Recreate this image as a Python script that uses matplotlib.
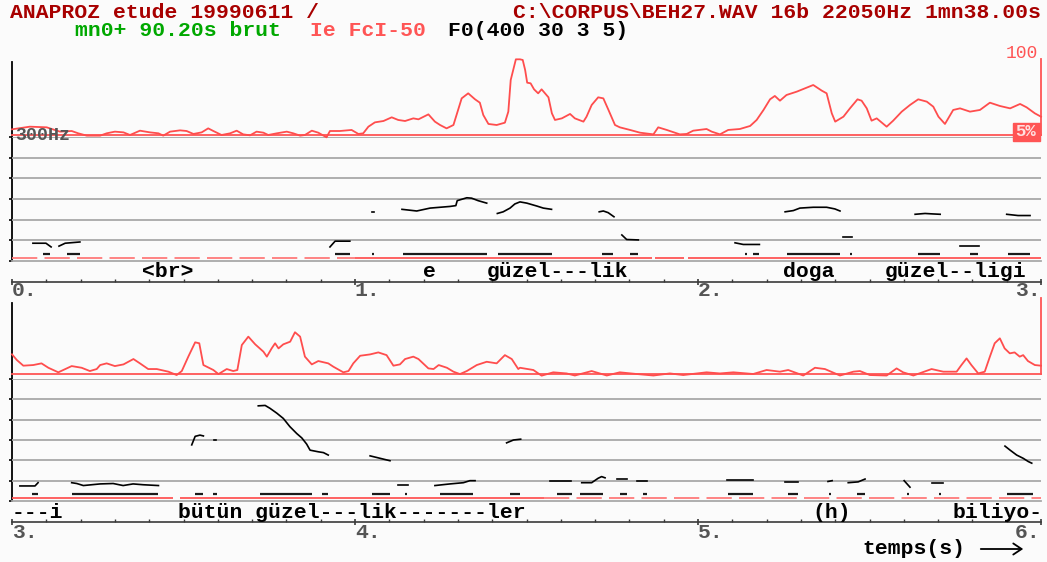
import matplotlib
matplotlib.use("Agg")
import matplotlib.pyplot as plt
from matplotlib.patches import Rectangle, FancyArrowPatch
import numpy as np

# ---------------- data ----------------
# intensity (percent, 5 = baseline, 100 = top), panel 1 (0-3 s)
INT1_T = [0.000, 0.052, 0.101, 0.140, 0.174, 0.193, 0.218, 0.257, 0.276, 0.300,
          0.325, 0.344, 0.373, 0.402, 0.427, 0.441, 0.461, 0.490, 0.509, 0.529,
          0.553, 0.572, 0.587, 0.611, 0.636, 0.655, 0.674, 0.694, 0.713, 0.733,
          0.747, 0.772, 0.801, 0.820, 0.840, 0.854, 0.874, 0.893, 0.917, 0.927,
          0.956, 0.990, 1.010, 1.024, 1.039, 1.058, 1.083, 1.107, 1.126, 1.146,
          1.170, 1.185, 1.214, 1.233, 1.248, 1.267, 1.287, 1.302, 1.311, 1.330,
          1.350, 1.364, 1.374, 1.389, 1.413, 1.437, 1.447, 1.454, 1.469, 1.481,
          1.489, 1.496, 1.502, 1.512, 1.522, 1.534, 1.544, 1.554, 1.564, 1.574,
          1.583, 1.603, 1.627, 1.641, 1.666, 1.675, 1.690, 1.709, 1.724, 1.739,
          1.758, 1.772, 1.802, 1.831, 1.870, 1.884, 1.909, 1.947, 1.967, 1.986,
          2.025, 2.040, 2.064, 2.088, 2.122, 2.152, 2.171, 2.191, 2.210, 2.224,
          2.239, 2.258, 2.288, 2.317, 2.336, 2.361, 2.375, 2.390, 2.400, 2.424,
          2.443, 2.465, 2.477, 2.492, 2.506, 2.521, 2.550, 2.569, 2.594, 2.618,
          2.642, 2.667, 2.686, 2.701, 2.720, 2.744, 2.764, 2.793, 2.822, 2.851,
          2.880, 2.910, 2.939, 2.958, 2.982, 3.000]
INT1_V = [12.1, 15.4, 14.6, 9.2, 10.0, 7.1, 4.2, 4.2, 7.1, 9.2,
          8.3, 5.0, 10.4, 8.3, 7.1, 4.2, 9.2, 10.8, 10.0, 6.3,
          8.3, 13.3, 10.0, 5.0, 7.1, 10.4, 5.8, 4.6, 9.2, 7.9,
          5.0, 7.1, 9.2, 7.1, 4.2, 5.0, 10.4, 7.9, 2.1, 10.0,
          10.0, 11.3, 6.3, 7.1, 15.4, 20.8, 22.5, 27.1, 23.8, 22.5,
          25.8, 24.6, 30.8, 21.7, 17.5, 13.3, 17.5, 38.3, 50.8, 57.1,
          49.6, 45.4, 30.0, 18.8, 17.5, 20.4, 34.2, 73.8, 99.6, 99.6,
          98.8, 86.3, 70.4, 69.6, 62.1, 57.1, 62.1, 57.1, 52.1, 32.1,
          23.8, 25.8, 31.3, 25.8, 21.7, 27.9, 42.5, 52.1, 50.8, 36.3,
          17.5, 14.6, 11.3, 7.9, 5.8, 14.6, 11.3, 5.8, 6.3, 10.4,
          12.5, 9.2, 5.8, 11.3, 12.5, 16.3, 23.8, 36.3, 49.6, 53.8,
          47.9, 55.0, 59.2, 64.2, 67.5, 60.4, 57.1, 32.1, 21.7, 27.9,
          38.3, 49.6, 47.9, 38.3, 22.9, 25.8, 15.4, 22.9, 34.2, 42.5,
          49.6, 46.7, 40.4, 27.9, 18.8, 36.3, 38.3, 34.2, 36.3, 45.4,
          41.3, 38.3, 43.8, 39.6, 32.1, 27.9]

# intensity, panel 2 (3-6 s)
INT2_T = [3.000, 3.014, 3.033, 3.062, 3.086, 3.106, 3.135, 3.174, 3.203, 3.227,
          3.247, 3.257, 3.276, 3.300, 3.325, 3.354, 3.373, 3.397, 3.422, 3.456,
          3.480, 3.495, 3.514, 3.534, 3.546, 3.558, 3.587, 3.602, 3.626, 3.645,
          3.657, 3.670, 3.689, 3.709, 3.733, 3.743, 3.757, 3.767, 3.777, 3.791,
          3.811, 3.825, 3.840, 3.854, 3.874, 3.893, 3.922, 3.937, 3.966, 3.981,
          3.995, 4.015, 4.044, 4.068, 4.092, 4.112, 4.131, 4.146, 4.170, 4.185,
          4.214, 4.229, 4.244, 4.268, 4.287, 4.306, 4.326, 4.355, 4.384, 4.413,
          4.437, 4.457, 4.476, 4.481, 4.520, 4.544, 4.578, 4.617, 4.641, 4.690,
          4.734, 4.772, 4.821, 4.870, 4.918, 4.957, 5.025, 5.064, 5.103, 5.161,
          5.200, 5.239, 5.263, 5.307, 5.341, 5.370, 5.414, 5.453, 5.472, 5.501,
          5.550, 5.579, 5.598, 5.628, 5.681, 5.715, 5.754, 5.768, 5.783, 5.797,
          5.817, 5.836, 5.851, 5.865, 5.880, 5.894, 5.909, 5.923, 5.938, 5.948,
          5.962, 5.982, 6.000]
INT2_V = [29.6, 22.5, 15.4, 16.2, 18.3, 12.8, 7.1, 14.9, 12.8, 8.7,
          11.2, 16.2, 18.3, 14.9, 17.0, 23.7, 18.3, 11.2, 11.2, 7.9,
          3.7, 8.7, 26.7, 44.6, 43.4, 16.2, 10.0, 4.9, 11.2, 8.7,
          10.0, 41.2, 51.7, 42.1, 32.9, 26.7, 37.0, 43.4, 37.0, 42.1,
          45.4, 57.2, 51.7, 26.7, 17.0, 21.2, 18.3, 14.1, 7.1, 8.7,
          18.3, 27.8, 29.5, 32.0, 28.6, 15.4, 17.0, 23.7, 26.7, 23.7,
          12.0, 11.2, 16.2, 12.8, 7.9, 4.9, 8.7, 16.2, 20.3, 18.3,
          28.6, 23.7, 11.2, 12.8, 10.0, 2.9, 7.1, 5.7, 3.1, 8.7,
          3.1, 7.1, 5.0, 3.1, 5.7, 3.7, 7.1, 5.7, 7.1, 5.0,
          10.0, 7.9, 10.0, 3.1, 12.8, 11.2, 3.1, 7.9, 8.7, 3.7,
          3.1, 12.0, 7.1, 3.1, 11.2, 7.9, 7.9, 16.2, 24.5, 16.2,
          5.7, 7.9, 26.7, 43.4, 49.6, 37.0, 30.8, 32.0, 26.7, 28.6,
          21.2, 16.2, 15.4]

# F0 contour pieces (time s, Hz)
F0_1 = [
    ([0.061, 0.099, 0.114], [43, 43, 34]),
    ([0.137, 0.155, 0.198], [36, 43, 46]),
    ([0.927, 0.942, 0.985], [34, 48, 48]),
    ([1.050, 1.055], [119, 119]),
    ([1.137, 1.180, 1.219, 1.277, 1.294, 1.298, 1.326, 1.340, 1.359, 1.384],
     [125, 121, 128, 132, 134, 146, 153, 152, 146, 140]),
    ([1.415, 1.432, 1.452, 1.466, 1.481, 1.501, 1.530, 1.549, 1.573],
     [115, 119, 128, 138, 143, 140, 133, 128, 125]),
    ([1.712, 1.724, 1.738, 1.755], [119, 121, 117, 107]),
    ([1.778, 1.792, 1.826], [63, 52, 51]),
    ([2.108, 2.132, 2.179], [44, 40, 40]),
    ([2.254, 2.278, 2.297, 2.336, 2.375, 2.399, 2.414], [119, 122, 128, 130, 130, 126, 121]),
    ([2.422, 2.448], [59, 59]),
    ([2.633, 2.662, 2.682, 2.706], [113, 115, 114, 113]),
    ([2.764, 2.819], [37, 37]),
    ([2.900, 2.933, 2.968], [113, 110, 110]),
]
F0_2 = [
    ([3.023, 3.067, 3.076], [37, 37, 45]),
    ([3.174, 3.189, 3.208, 3.257, 3.295, 3.324, 3.353, 3.382, 3.427],
     [45, 43, 38, 42, 43, 38, 42, 40, 38]),
    ([3.524, 3.534, 3.548, 3.558], [138, 159, 162, 160]),
    ([3.588, 3.596], [150, 150]),
    ([3.718, 3.738, 3.752, 3.772, 3.791, 3.810, 3.830, 3.845, 3.859, 3.869, 3.893, 3.908, 3.922],
     [234, 235, 228, 216, 203, 183, 166, 155, 140, 125, 121, 119, 113]),
    ([4.044, 4.073, 4.102], [111, 105, 99]),
    ([4.126, 4.155], [40, 40]),
    ([4.233, 4.277, 4.316, 4.335, 4.350], [38, 42, 45, 50, 50]),
    ([4.442, 4.462, 4.483], [143, 150, 152]),
    ([4.569, 4.629], [50, 50]),
    ([4.661, 4.690, 4.709, 4.719, 4.729], [45, 45, 56, 60, 57]),
    ([4.763, 4.792], [53, 53]),
    ([4.821, 4.850], [49, 49]),
    ([5.084, 5.161], [51, 51]),
    ([5.254, 5.292], [46, 46]),
    ([5.379, 5.391], [48, 50]),
    ([5.438, 5.467, 5.487], [45, 47, 54]),
    ([5.601, 5.618], [50, 34]),
    ([5.681, 5.713], [45, 45]),
    ([5.895, 5.910, 5.929, 5.948, 5.963, 5.973], [135, 125, 113, 105, 97, 93]),
]

# voicing bars (start, end in s)
VOICED_1 = [(0.090, 0.111), (0.160, 0.198), (0.942, 0.985), (1.050, 1.055),
            (1.140, 1.385), (1.417, 1.574), (1.720, 1.752), (1.802, 1.825),
            (2.137, 2.143), (2.160, 2.178), (2.259, 2.414), (2.443, 2.449),
            (2.641, 2.706), (2.793, 2.816), (2.904, 2.968)]
VOICED_2 = [(3.058, 3.076), (3.175, 3.426), (3.534, 3.557), (3.586, 3.598),
            (3.723, 3.875), (3.904, 3.921), (4.050, 4.102), (4.146, 4.152),
            (4.248, 4.344), (4.452, 4.481), (4.589, 4.633), (4.656, 4.723),
            (4.773, 4.793), (4.840, 4.851), (5.087, 5.160), (5.262, 5.292),
            (5.382, 5.388), (5.464, 5.487), (5.609, 5.615), (5.703, 5.708),
            (5.901, 5.977)]

# red reference line: solid stretches (rest dashed)
SOLID_1 = [(1.0, 1.865), (1.875, 1.96), (1.97, 3.0)]
DASHED_1 = [(0.0, 1.0)]
SOLID_2 = [(3.0, 3.47), (3.49, 4.55)]
DASHED_2 = [(4.55, 6.0)]

# transcription
WORDS_1 = [(0.379, "<br>"), (1.198, "e"), (1.385, "güzel---lik"),
           (2.248, "doga"), (2.545, "güzel--ligi")]
WORDS_2 = [(3.0, "---i"), (3.484, "bütün güzel---lik-------ler"),
           (5.332, "(h)"), (5.741, "biliyo-")]

F0_GRID = [50, 100, 150, 200, 250, 300]
TICK_LABELS_1 = ["0.", "1.", "2.", "3."]
TICK_LABELS_2 = ["3.", "4.", "5.", "6."]

# ---------------- style ----------------
W, H = 1047, 562
BG = "#fbfbfb"
FONT = "Liberation Mono"
FS = 15.4
DARK_RED = "#a80000"
GREEN = "#00a800"
LIGHT_RED = "#ff5555"
CURVE_RED = "#ff4d4d"
GRAY = "#a8a8a8"
DARK_GRAY = "#555555"
RED_LEVEL = 7
VOICE_LEVEL = 16

fig = plt.figure(figsize=(W / 100, H / 100), dpi=100, facecolor=BG)


def box(x0, y0, x1, y1):
    return [x0 / W, 1 - y1 / H, (x1 - x0) / W, (y1 - y0) / H]


def ftext(x, y, s, color, ha="left", size=FS, weight="bold"):
    fig.text(x / W, 1 - y / H, s, color=color, ha=ha, va="center",
             fontfamily=FONT, fontweight=weight, fontsize=size)


def clean(ax):
    ax.set_facecolor("none")
    for sp in ax.spines.values():
        sp.set_visible(False)
    ax.set_xticks([])
    ax.set_yticks([])


X_LEFT, X_RIGHT = 12, 1041
PANELS = [
    dict(t0=0, t1=3, it=59, ib=135, ft=137, fb=261, at=62, ty=282, ly=271, kl=291,
         it_=INT1_T, iv=INT1_V, f0=F0_1, vo=VOICED_1, so=SOLID_1, da=DASHED_1,
         words=WORDS_1, ticks=TICK_LABELS_1),
    dict(t0=3, t1=6, it=298, ib=374, ft=379, fb=501, at=303, ty=522, ly=512, kl=533,
         it_=INT2_T, iv=INT2_V, f0=F0_2, vo=VOICED_2, so=SOLID_2, da=DASHED_2,
         words=WORDS_2, ticks=TICK_LABELS_2),
]

for p in PANELS:
    # left frame axis
    axf = fig.add_axes(box(X_LEFT, p["at"], X_RIGHT, p["fb"]))
    clean(axf)
    axf.spines["left"].set_visible(True)
    axf.spines["left"].set_color("black")
    axf.spines["left"].set_linewidth(1.3)

    # F0 area
    ax0 = fig.add_axes(box(X_LEFT, p["ft"], X_RIGHT, p["fb"]))
    clean(ax0)
    ax0.set_xlim(p["t0"], p["t1"])
    ax0.set_ylim(0, 300)
    ax0.spines["bottom"].set_visible(True)
    ax0.spines["bottom"].set_color(GRAY)
    ax0.spines["bottom"].set_linewidth(1.3)
    ax0.set_yticks([0] + F0_GRID)
    ax0.tick_params(axis="y", direction="out", length=2.5, width=1.2,
                    color="black", labelleft=False)
    for g in F0_GRID:
        ax0.axhline(g, color=GRAY, lw=1.3, zorder=1)
    for a, b in p["so"]:
        ax0.hlines(RED_LEVEL, a, b, color=LIGHT_RED, lw=1.3, zorder=2)
    for a, b in p["da"]:
        ax0.hlines(RED_LEVEL, a, b, color="#ff7a7a", lw=1.3, zorder=2,
                   linestyles=(0, (14, 4)))
    for a, b in p["vo"]:
        ax0.hlines(VOICE_LEVEL, a, b, color="#1a1a1a", lw=1.6, zorder=3)
    for ts, fs in p["f0"]:
        ax0.plot(ts, fs, color="black", lw=1.2, zorder=4, clip_on=False)

    # intensity area
    axi = fig.add_axes(box(X_LEFT, p["it"], X_RIGHT, p["ib"]))
    clean(axi)
    axi.set_xlim(p["t0"], p["t1"])
    axi.set_ylim(5, 100)
    for s in ("right", "bottom"):
        axi.spines[s].set_visible(True)
        axi.spines[s].set_color(LIGHT_RED)
        axi.spines[s].set_linewidth(1.3)
    axi.plot(p["it_"], p["iv"], color=CURVE_RED, lw=1.3, clip_on=False, zorder=3)

    # time axis + transcription row
    axt = fig.add_axes(box(X_LEFT, p["ty"] - 20, X_RIGHT, p["ty"]))
    clean(axt)
    axt.set_xlim(p["t0"], p["t1"])
    axt.set_ylim(0, 1)
    axt.spines["bottom"].set_visible(True)
    axt.spines["bottom"].set_color("#3a3a3a")
    axt.spines["bottom"].set_linewidth(1.2)
    axt.set_xticks(np.arange(p["t0"], p["t1"] + 0.001, 1.0))
    axt.set_xticks(np.arange(p["t0"], p["t1"] + 0.001, 0.1), minor=True)
    axt.tick_params(axis="x", which="major", direction="inout", length=5, width=1.2,
                    color="#3a3a3a", labelbottom=False)
    axt.tick_params(axis="x", which="minor", direction="in", length=2.5, width=1.0,
                    color="#3a3a3a")
    row_y = (p["ty"] - p["ly"]) / 20
    for t, w in p["words"]:
        axt.text(t, row_y, w, ha="left", va="center", color="black",
                 fontfamily=FONT, fontweight="bold", fontsize=FS)
    lab_y = -(p["kl"] - p["ty"]) / 20
    n = len(p["ticks"])
    for i, lab in enumerate(p["ticks"]):
        axt.text(p["t0"] + i, lab_y, lab, ha="right" if i == n - 1 else "left",
                 va="center", color=DARK_GRAY, fontfamily=FONT,
                 fontweight="bold", fontsize=FS, clip_on=False)

# header
ftext(10, 12, "ANAPROZ etude 19990611 /", DARK_RED)
ftext(1041, 12, "C:\\CORPUS\\BEH27.WAV 16b 22050Hz 1mn38.00s", DARK_RED, ha="right")
ftext(75, 31, "mn0+ 90.20s brut", GREEN)
ftext(310, 31, "Ie FcI-50", LIGHT_RED)
ftext(448, 31, "F0(400 30 3 5)", "black")

# scale labels
ftext(1038, 54, "100", LIGHT_RED, ha="right", size=13, weight="normal")
fig.add_artist(Rectangle((1013 / W, 1 - 141 / H), 27 / W, 18 / H,
                         transform=fig.transFigure, color=LIGHT_RED, zorder=5))
fig.text(1026 / W, 1 - 132 / H, "5%", color="#ffe0e0", ha="center", va="center",
         fontfamily=FONT, fontweight="bold", fontsize=12.5, zorder=6)
ftext(15, 135, "300Hz", DARK_GRAY, size=13.2)

# time caption
ftext(862, 549, "temps(s)", "black")
fig.add_artist(FancyArrowPatch((978 / W, 1 - 549 / H), (1026 / W, 1 - 549 / H),
                               transform=fig.transFigure,
                               arrowstyle="->,head_length=6,head_width=4",
                               color="black", lw=1.3, mutation_scale=1))

fig.savefig("out.png", dpi=100, facecolor=BG)
